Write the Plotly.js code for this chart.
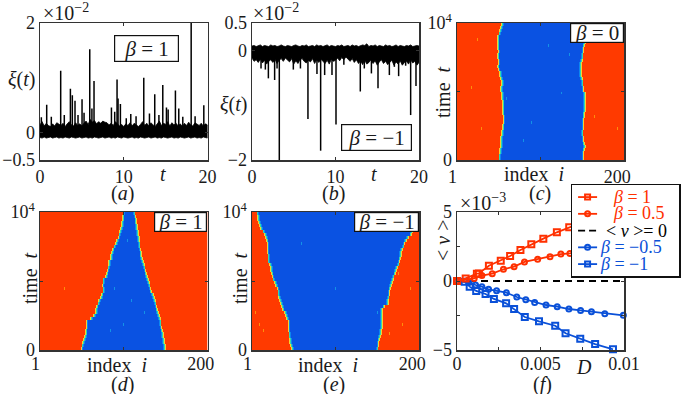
<!DOCTYPE html>
<html>
<head>
<meta charset="utf-8">
<script src="https://cdn.plot.ly/plotly-3.0.1.min.js"></script>
<style>html,body{margin:0;padding:0;background:#fff}</style>
</head>
<body>
<div id="chart" style="width:681px;height:394px"></div>
<script>
// (a) and (b): noise band, sampled every 0.25 in t
const bandTimes = [0,0.25,0.5,0.75,1,1.25,1.5,1.75,2,2.25,2.5,2.75,3,3.25,3.5,3.75,4,4.25,4.5,4.75,
  5,5.25,5.5,5.75,6,6.25,6.5,6.75,7,7.25,7.5,7.75,8,8.25,8.5,8.75,9,9.25,9.5,9.75,
  10,10.25,10.5,10.75,11,11.25,11.5,11.75,12,12.25,12.5,12.75,13,13.25,13.5,13.75,14,14.25,14.5,14.75,
  15,15.25,15.5,15.75,16,16.25,16.5,16.75,17,17.25,17.5,17.75,18,18.25,18.5,18.75,19,19.25,19.5,19.75,20];
const bandTopA = [0.14,0.2,0.12,0.17,0.13,0.11,0.16,0.12,0.18,0.15,0.13,0.17,0.11,0.16,0.2,0.14,0.12,0.18,0.13,0.16,
  0.12,0.17,0.21,0.15,0.24,0.19,0.22,0.16,0.2,0.17,0.21,0.19,0.18,0.14,0.17,0.13,0.2,0.16,0.12,0.15,
  0.11,0.16,0.13,0.18,0.12,0.17,0.14,0.11,0.15,0.2,0.13,0.17,0.12,0.18,0.14,0.11,0.16,0.21,0.13,0.17,
  0.15,0.2,0.12,0.18,0.14,0.17,0.12,0.16,0.11,0.17,0.13,0.19,0.14,0.12,0.18,0.15,0.13,0.17,0.12,0.16,0.14];
const bandBotA = [-0.09,-0.1,-0.08,-0.1,-0.09,-0.08,-0.1,-0.09,-0.08,-0.1,-0.09,-0.1,-0.08,-0.09,-0.1,-0.08,-0.09,-0.1,-0.09,-0.08,
  -0.1,-0.09,-0.08,-0.1,-0.09,-0.1,-0.08,-0.09,-0.1,-0.09,-0.08,-0.1,-0.09,-0.08,-0.1,-0.09,-0.1,-0.08,-0.09,-0.1,
  -0.08,-0.09,-0.1,-0.09,-0.08,-0.1,-0.09,-0.1,-0.08,-0.09,-0.1,-0.09,-0.08,-0.1,-0.09,-0.08,-0.1,-0.09,-0.1,-0.08,
  -0.09,-0.1,-0.09,-0.08,-0.1,-0.09,-0.1,-0.08,-0.09,-0.1,-0.09,-0.08,-0.1,-0.09,-0.08,-0.1,-0.09,-0.1,-0.08,-0.09,-0.1];
const spikeTimesA = [0.16,0.8,1.35,2.47,2.9,3.63,3.86,4.18,4.54,5.02,5.26,5.94,6.2,6.45,8.53,8.92,9.2,9.32,9.6,10.3,
  10.84,11.47,12.39,13.07,13.7,14.2,14.66,15.1,15.3,16.17,16.57,17.05,18.05,18.52,19.56];
const spikeTopsA = [0.28,0.51,0.29,1.13,0.32,0.8,0.68,0.58,0.32,0.61,0.36,1.52,0.44,0.94,0.46,0.38,0.97,0.62,0.52,0.26,
  0.34,0.3,1.0,0.35,0.7,0.32,0.87,0.46,0.42,0.77,0.44,0.29,2.2,0.3,0.5];

const bandTopB = [0.08,0.09,0.07,0.08,0.1,0.07,0.09,0.08,0.07,0.1,0.08,0.09,0.07,0.08,0.1,0.08,0.07,0.09,0.08,0.07,
  0.09,0.1,0.08,0.07,0.09,0.08,0.1,0.07,0.08,0.09,0.07,0.1,0.08,0.09,0.07,0.08,0.1,0.07,0.09,0.08,
  0.07,0.09,0.08,0.1,0.07,0.08,0.09,0.07,0.1,0.08,0.09,0.07,0.08,0.1,0.09,0.12,0.07,0.09,0.08,0.1,
  0.07,0.09,0.08,0.07,0.1,0.08,0.09,0.07,0.08,0.1,0.07,0.09,0.08,0.07,0.09,0.08,0.1,0.07,0.08,0.09,0.08];
const bandBotB = [-0.14,-0.2,-0.17,-0.22,-0.16,-0.23,-0.18,-0.25,-0.2,-0.17,-0.22,-0.16,-0.24,-0.18,-0.15,-0.2,-0.14,-0.17,-0.21,-0.15,
  -0.25,-0.19,-0.24,-0.17,-0.15,-0.2,-0.23,-0.18,-0.21,-0.15,-0.24,-0.17,-0.22,-0.16,-0.2,-0.24,-0.18,-0.25,-0.16,-0.2,
  -0.18,-0.14,-0.19,-0.13,-0.17,-0.12,-0.16,-0.2,-0.15,-0.22,-0.17,-0.24,-0.19,-0.26,-0.18,-0.25,-0.22,-0.17,-0.24,-0.19,
  -0.27,-0.21,-0.17,-0.24,-0.2,-0.26,-0.22,-0.18,-0.27,-0.21,-0.25,-0.19,-0.27,-0.22,-0.2,-0.25,-0.17,-0.23,-0.2,-0.27,-0.22];
const spikeTimesB = [1.08,1.6,1.96,2.71,3,3.27,4.95,5.8,6.7,7.78,8.22,8.7,9.58,10.06,11,12.97,13.45,14.3,15.09,16.45,
  17.05,17.56,18.4,19,19.64];
const spikeTopsB = [-0.33,-0.35,-0.51,-0.54,-0.33,-2.2,-0.35,-0.33,-1.25,-0.43,-1.83,-0.45,-0.45,-1.35,-0.26,-0.75,-0.33,-0.42,-0.69,-0.45,
  -0.3,-0.47,-0.28,-1.18,-0.65];

// (c), (d), (e): left and right front of the blue region, one index per time row, t = 0 first
const frontLeftC = [52,52,53,53,54,54,54,54,55,55,
  56,56,57,57,57,56,56,56,56,56,
  55,55,55,54,54,55,55,54,53,53,
  51,50,51,51,50,50,51,50,50,50,
  50,50,52,53,54,55];
const frontRightC = [151,151,151,152,153,152,151,151,150,150,
  151,151,151,151,152,152,153,153,153,153,
  153,153,153,151,151,150,150,149,148,148,
  148,148,148,149,150,150,151,151,152,153,
  153,153,154,154,154,154];
const frontLeftD = [51,52,53,54,55,56,56,57,57,57,
  62,66,68,68,69,71,72,74,75,77,
  77,76,77,77,80,81,82,83,84,84,
  86,86,87,88,90,92,93,95,96,97,
  98,99,99,100,100,101];
const frontRightD = [149,149,148,148,147,147,146,145,144,144,
  143,142,141,140,139,138,137,136,135,133,
  132,131,130,129,128,127,126,125,124,123,
  122,121,121,120,119,119,118,118,117,117,
  116,116,115,115,114,113];
const frontLeftE = [49,48,47,47,46,46,45,45,45,45,
  43,42,41,38,37,36,35,34,33,33,
  32,30,29,27,26,25,24,24,23,21,
  21,21,20,20,20,20,19,18,17,15,
  12,11,10,9,9,8];
const frontRightE = [150,151,151,152,153,154,154,155,155,155,
  155,155,155,155,158,162,162,163,164,164,
  165,166,167,168,169,171,172,173,175,176,
  177,178,178,179,181,182,184,186,190,191,
  192,192,193,193,194,194];
// brighter specks: [index, time row]
const specksC = [[18,24],[30,10],[25,40],[70,30],[90,12],[110,38],[125,22],[80,6],[135,35],[170,28],[185,42],[165,14],[192,10],[60,20]];
const specksD = [[95,30],[105,36],[90,20],[100,8],[110,16],[120,4],[85,6],[125,12],[30,20],[170,30]];
const specksE = [[10,8],[15,6],[20,3],[5,12],[180,8],[165,5],[190,20],[175,25],[100,20],[60,35],[150,12]];

// (f)
const dBetaP1 = [0,0.00052,0.00119,0.00131,0.00191,0.00262,0.00318,0.0038,0.00445,0.00517,0.00598,0.00672,0.0075,0.0085,0.0097];
const vBetaP1 = [0,0.19,0.53,0.55,1.11,1.47,1.81,2.25,2.66,3.07,3.53,3.89,4.25,4.6,4.95];
const dBetaP05 = [0,0.00103,0.00149,0.00211,0.00278,0.00342,0.00404,0.00483,0.00557,0.00622,0.00676,0.0075,0.0085,0.0097];
const vBetaP05 = [0,0.19,0.39,0.53,0.85,1.04,1.38,1.57,1.76,1.95,2.0,2.2,2.4,2.55];
const dZero = [0,0.01];
const vZero = [0,0];
const dBetaM05 = [0,0.00072,0.00111,0.00149,0.00189,0.00237,0.00296,0.00358,0.00412,0.00465,0.00533,0.006,0.0067,0.0074,0.00805,0.00885,0.00996];
const vBetaM05 = [0,-0.1,-0.29,-0.41,-0.6,-0.7,-0.85,-1.16,-1.35,-1.55,-1.74,-1.86,-2.03,-2.13,-2.22,-2.37,-2.49];
const dBetaM1 = [0,0.00046,0.00076,0.00115,0.00171,0.00221,0.00294,0.00342,0.00406,0.00491,0.00588,0.0065,0.00738,0.00827,0.00934];
const vBetaM1 = [0,-0.05,-0.41,-0.72,-0.94,-1.3,-1.62,-2.03,-2.61,-2.92,-3.24,-3.79,-4.18,-4.57,-4.95];

const WIDTH = 681, HEIGHT = 394;
const SERIF = 'Liberation Serif, serif';
const RED = '#ff3000', BLUE = '#0a50d8', INK = '#1a1a1a', FRAME = '#333333';
const nb = '\u00a0';
// cell values next to a front, from the red side to the blue side
const frontRamp = [0.72, 0.42, 0.16];

function band(times, top, bot, xa, ya) {
  return {
    x: times.concat(times.slice().reverse()),
    y: top.concat(bot.slice().reverse()),
    xaxis: xa, yaxis: ya,
    type: 'scatter', mode: 'lines', fill: 'toself', fillcolor: '#000',
    line: {color: '#000', width: 0.8}, showlegend: false, hoverinfo: 'skip'
  };
}

function spikes(times, tops, xa, ya) {
  const x = [], y = [];
  times.forEach((t, k) => {
    x.push(t, t, null);
    y.push(0, tops[k], null);
  });
  return {
    x, y, xaxis: xa, yaxis: ya,
    type: 'scatter', mode: 'lines',
    line: {color: '#000', width: 1.5}, showlegend: false, hoverinfo: 'skip'
  };
}

const heatScale = [
  [0, '#0a52e2'], [0.16, '#0c86f0'], [0.42, '#30d8b0'], [0.55, '#a0e060'],
  [0.72, '#f8d030'], [0.85, '#ff7c00'], [1, '#ff3a00']
];

function heat(left, right, specks, xa, ya) {
  const rows = left.length;
  const z = [], x = [], y = [];
  for (let i = 1; i <= 200; i++) x.push(i);
  for (let r = 0; r < rows; r++) {
    y.push((r + 0.5) * 10000 / rows);
    const row = [];
    for (let i = 1; i <= 200; i++) {
      const a = i - left[r] + 1, b = right[r] - i + 1;
      let v = 0;
      if (a < 0 || b < 0) v = 1;
      else if (a < frontRamp.length) v = frontRamp[a];
      else if (b < frontRamp.length) v = frontRamp[b];
      row.push(v);
    }
    z.push(row);
  }
  specks.forEach(([i, r]) => {
    z[r][i - 1] = z[r][i - 1] > 0.5 ? 0.82 : 0.2;
  });
  return {
    type: 'heatmap', x, y, z, xaxis: xa, yaxis: ya, zmin: 0, zmax: 1,
    colorscale: heatScale, showscale: false, hoverinfo: 'skip', xgap: 0, ygap: 0
  };
}

function curve(d, v, color, symbol, size, xa, ya) {
  return {
    x: d, y: v, xaxis: xa, yaxis: ya, showlegend: false, cliponaxis: false,
    type: 'scatter', mode: 'lines+markers',
    line: {color, width: 1.8},
    marker: {color, symbol, size, line: {color, width: 2}}
  };
}

// legend box of (f) is its own small axes: rows 1 to 5, key samples from 0 to 1
const keySpanX = [0, 1];
const keyMidX = [0.5];
const keyRows = [1, 2, 3, 4, 5];
const keyBoxX = [-0.32, 5.31, 5.31, -0.32];
const keyBoxY = [0.28, 0.28, 5.71, 5.71];

function keyLine(row, color, dash) {
  return {
    x: keySpanX, y: [row, row], xaxis: 'x7', yaxis: 'y7', showlegend: false,
    type: 'scatter', mode: 'lines', line: {color, width: 1.8, dash: dash || 'solid'}
  };
}

function keyMark(row, color, symbol, size) {
  return curve(keyMidX, [row], color, symbol, size, 'x7', 'y7');
}

const data = [
  band(bandTimes, bandTopA, bandBotA, 'x', 'y'),
  spikes(spikeTimesA, spikeTopsA, 'x', 'y'),
  band(bandTimes, bandTopB, bandBotB, 'x2', 'y2'),
  spikes(spikeTimesB, spikeTopsB, 'x2', 'y2'),
  heat(frontLeftC, frontRightC, specksC, 'x3', 'y3'),
  heat(frontLeftD, frontRightD, specksD, 'x4', 'y4'),
  heat(frontLeftE, frontRightE, specksE, 'x5', 'y5'),
  {x: dZero, y: vZero, xaxis: 'x6', yaxis: 'y6', showlegend: false,
    type: 'scatter', mode: 'lines', line: {color: '#000', width: 1.8, dash: '7px,5px'}},
  curve(dBetaM05, vBetaM05, BLUE, 'circle-open', 5, 'x6', 'y6'),
  curve(dBetaM1, vBetaM1, BLUE, 'square-open', 6, 'x6', 'y6'),
  curve(dBetaP05, vBetaP05, RED, 'circle-open', 5, 'x6', 'y6'),
  curve(dBetaP1, vBetaP1, RED, 'square-open', 6, 'x6', 'y6'),
  {x: keyBoxX, y: keyBoxY, xaxis: 'x7', yaxis: 'y7', showlegend: false,
    type: 'scatter', mode: 'lines', fill: 'toself', fillcolor: '#fff', line: {width: 0}},
  keyLine(keyRows[0], RED), keyMark(keyRows[0], RED, 'square-open', 5),
  keyLine(keyRows[1], RED), keyMark(keyRows[1], RED, 'circle-open', 5),
  keyLine(keyRows[2], '#000', '7px,4px'),
  keyLine(keyRows[3], BLUE), keyMark(keyRows[3], BLUE, 'circle-open', 5),
  keyLine(keyRows[4], BLUE), keyMark(keyRows[4], BLUE, 'square-open', 5)
];

// panel frames in page pixels: left, right, top, bottom
function xDomain(l, r) { return [l / WIDTH, r / WIDTH]; }
function yDomain(t, b) { return [1 - b / HEIGHT, 1 - t / HEIGHT]; }

function axis(domain, range, tickvals, ticktext, anchor, minorvals, standoff) {
  const ax = {
    domain, range, tickvals, ticktext, anchor,
    showline: true, mirror: 'ticks', linecolor: FRAME, linewidth: 1.5,
    ticks: 'inside', ticklen: 3, tickwidth: 1, tickcolor: FRAME,
    showgrid: false, zeroline: false, fixedrange: true,
    tickfont: {family: SERIF, size: 18, color: INK}
  };
  if (minorvals) {
    ax.minor = {tickmode: 'array', tickvals: minorvals, ticks: 'inside', ticklen: 3, tickwidth: 1, tickcolor: FRAME, showgrid: false};
  }
  if (standoff) ax.ticklabelstandoff = standoff;
  return ax;
}

function keyAxis(domain, range, anchor) {
  return {
    domain, range, anchor, showline: true, mirror: true, linecolor: '#111', linewidth: 1.5,
    showticklabels: false, ticks: '', showgrid: false, zeroline: false, fixedrange: true
  };
}

const xTicks20 = [0, 10, 20], xText20 = ['0', '10', '20'];
const xTicksIdx = [1, 200], xTextIdx = ['1' + nb + nb, '200' + nb + nb + nb];
const yTicksT = [0, 10000], yTextT = ['0', '10<sup>4</sup>'];
const colA = xDomain(40, 207.5), colB = xDomain(252, 419), colC = xDomain(457, 624);
const rowTop = yDomain(23, 160), rowBot = yDomain(212, 350);

function note(x, y, text, extra) {
  return Object.assign({
    xref: 'paper', yref: 'paper', x: x / WIDTH, y: 1 - y / HEIGHT,
    text, showarrow: false, xanchor: 'center', yanchor: 'middle',
    font: {family: SERIF, size: 18, color: INK}
  }, extra || {});
}

// boxed beta label, given its page pixel box
function betaBox(l, r, t, b, text) {
  return note((l + r) / 2, (t + b) / 2, text, {
    width: r - l - 2, height: b - t - 2,
    bgcolor: '#fff', bordercolor: '#111', borderwidth: 1.2, borderpad: 0,
    font: {family: SERIF, size: 21, color: INK}
  });
}

function keyLabel(x, y, text, color) {
  return note(x, y, text, {xanchor: 'left', font: {family: SERIF, size: 18, color}});
}

const bigFont = {family: SERIF, size: 20, color: INK};

const annotations = [
  note(66, 12, '×10<sup>−2</sup>', {font: bigFont}),
  note(276, 12, '×10<sup>−2</sup>', {font: bigFont}),
  note(483, 202, '×10<sup>−3</sup>', {font: bigFont}),
  note(21, 79, '<i>ξ</i>(<i>t</i>)', {font: bigFont}),
  note(233, 104, '<i>ξ</i>(<i>t</i>)', {font: bigFont}),
  note(163, 174, '<i>t</i>', {font: bigFont}),
  note(374, 174, '<i>t</i>', {font: bigFont}),
  note(584, 367, '<i>D</i>', {font: bigFont}),
  note(534, 174, 'index' + nb + nb + '<i>i</i>', {font: bigFont}),
  note(117, 365, 'index' + nb + nb + '<i>i</i>', {font: bigFont}),
  note(328, 365, 'index' + nb + nb + '<i>i</i>', {font: bigFont}),
  note(443, 92, 'time' + nb + nb + '<i>t</i>', {textangle: -90, font: bigFont}),
  note(30, 278, 'time' + nb + nb + '<i>t</i>', {textangle: -90, font: bigFont}),
  note(240, 278, 'time' + nb + nb + '<i>t</i>', {textangle: -90, font: bigFont}),
  note(443, 240, '< <i>v</i> >', {textangle: -90, font: bigFont}),
  note(123, 193, '(<i>a</i>)', {font: bigFont}),
  note(333, 193, '(<i>b</i>)', {font: bigFont}),
  note(540, 193, '(<i>c</i>)', {font: bigFont}),
  note(123, 384, '(<i>d</i>)', {font: bigFont}),
  note(334, 384, '(<i>e</i>)', {font: bigFont}),
  note(542, 384, '(<i>f</i>)', {font: bigFont}),
  betaBox(114, 179, 35, 62, '<i>β</i> = 1'),
  betaBox(341, 412, 124, 151, '<i>β</i> = −1'),
  betaBox(570, 624, 23, 43, '<i>β</i> = 0'),
  betaBox(154, 207, 212, 232, '<i>β</i> = 1'),
  betaBox(354, 419, 212, 232, '<i>β</i> = −1'),
  keyLabel(611, 197, '<i>β</i> = 1', RED),
  keyLabel(611, 213, '<i>β</i> = 0.5', RED),
  keyLabel(604, 231, '< <i>v</i> >= 0', '#000'),
  keyLabel(598, 247, '<i>β</i> = −0.5', BLUE),
  keyLabel(598, 264, '<i>β</i> = −1', BLUE)
];

const layout = {
  width: WIDTH, height: HEIGHT,
  margin: {l: 0, r: 0, t: 0, b: 0},
  paper_bgcolor: '#fff', plot_bgcolor: '#fff',
  font: {family: SERIF, size: 18, color: INK},
  showlegend: false,
  xaxis: axis(colA, [0, 20], xTicks20, xText20, 'y'),
  yaxis: axis(rowTop, [-0.5, 2], [-0.5, 0, 2], ['−0.5', '0', '2'], 'x'),
  xaxis2: axis(colB, [0, 20], xTicks20, xText20, 'y2'),
  yaxis2: axis(rowTop, [-2, 0.5], [-2, 0, 0.5], ['−2', '0', '0.5'], 'x2'),
  xaxis3: axis(colC, [1, 200], xTicksIdx, xTextIdx, 'y3', [100.5]),
  yaxis3: axis(rowTop, [0, 10000], yTicksT, yTextT, 'x3', [5000]),
  xaxis4: axis(colA, [1, 200], xTicksIdx, xTextIdx, 'y4', [100.5], -3),
  yaxis4: axis(rowBot, [0, 10000], yTicksT, yTextT, 'x4', [5000]),
  xaxis5: axis(colB, [1, 200], xTicksIdx, xTextIdx, 'y5', [100.5], -3),
  yaxis5: axis(rowBot, [0, 10000], yTicksT, yTextT, 'x5', [5000]),
  xaxis6: axis(colC, [0, 0.01], [0, 0.005, 0.01], ['0', '0.005', '0.01'], 'y6', [0.0025, 0.0075], -3),
  yaxis6: axis(rowBot, [-5, 5], [-5, 0, 5], ['−5', '0', '5'], 'x6', [-2.5, 2.5]),
  xaxis7: keyAxis(xDomain(572, 679), keyBoxX.slice(0, 2), 'y7'),
  yaxis7: keyAxis(yDomain(185, 276), [5.71, 0.28], 'x7'),
  annotations
};

Plotly.newPlot('chart', data, layout, {displayModeBar: false, staticPlot: true});
</script>
</body>
</html>
